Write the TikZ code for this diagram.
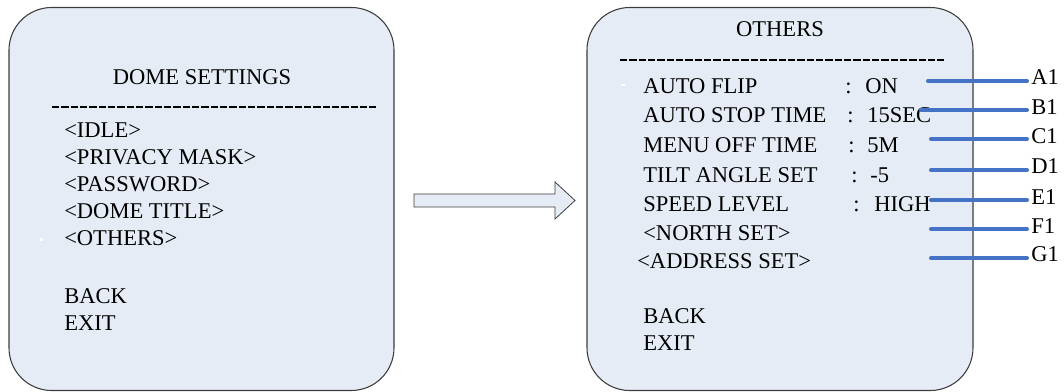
\documentclass[tikz,border=0pt]{standalone}
\usepackage{fontspec}
\setmainfont{Liberation Serif}
\definecolor{panel}{RGB}{230,236,246}
\definecolor{edge}{RGB}{60,60,60}
\definecolor{lineblue}{RGB}{68,114,196}
\begin{document}
\begin{tikzpicture}[x=0.75pt,y=-0.75pt,
  panelbox/.style={draw=edge,line width=0.8pt,fill=panel,rounded corners=32pt},
  menutext/.style={anchor=base west,inner sep=0pt,font=\fontsize{16.9pt}{18pt}\selectfont},
  titletext/.style={anchor=base,inner sep=0pt,font=\fontsize{16.9pt}{18pt}\selectfont},
  sepline/.style={line width=1.1pt,dash pattern=on 5.4pt off 1.6pt},
  callout/.style={lineblue,line width=3pt,line cap=round},
  calllabel/.style={anchor=west,inner sep=0pt,font=\fontsize{16.9pt}{18pt}\selectfont},
  cursor/.style={fill=white,draw=none}]
\useasboundingbox (0,0) rectangle (1064,392);
% left panel
\draw[panelbox] (9,390.5) rectangle (394,7.5);
\node[titletext] (t1) at (202,85) {DOME SETTINGS};
\draw[sepline] (52,107) -- (376,107);
\node[menutext] (l1) at (64,138) {<IDLE>};
\node[menutext] (l2) at (64,165) {<PRIVACY MASK>};
\node[menutext] (l3) at (64,192) {<PASSWORD>};
\node[menutext] (l4) at (64,219) {<DOME TITLE>};
\node[menutext] (l5) at (64,246) {<OTHERS>};
\node[menutext] (l6) at (64,303) {BACK};
\node[menutext] (l7) at (64,330) {EXIT};
\fill[cursor] (39.5,238.5) rectangle (43,241);
% block arrow
\draw[draw=edge,line width=0.6pt,fill=panel] (414,194) -- (555,194) -- (555,182) -- (575,200.5) -- (555,219) -- (555,207) -- (414,207) -- cycle;
% right panel
\draw[panelbox] (587,390.5) rectangle (973,7.5);
\node[titletext] (t2) at (780,37) {OTHERS};
\draw[sepline] (620,60) -- (944,60);
\node[menutext] (r1) at (643,94) {AUTO FLIP};
\node[menutext] (r1c) at (845,94) {:};
\node[menutext] (r1v) at (865,94) {ON};
\node[menutext] (r2) at (643,123) {AUTO STOP TIME};
\node[menutext] (r2c) at (847,123) {:};
\node[menutext] (r2v) at (867,123) {15SEC};
\node[menutext] (r3) at (643,153) {MENU OFF TIME};
\node[menutext] (r3c) at (848,153) {:};
\node[menutext] (r3v) at (867,153) {5M};
\node[menutext] (r4) at (643,183) {TILT ANGLE SET};
\node[menutext] (r4c) at (851,183) {:};
\node[menutext] (r4v) at (870,183) {-5};
\node[menutext] (r5) at (643,212) {SPEED LEVEL};
\node[menutext] (r5c) at (853,212) {:};
\node[menutext] (r5v) at (874,212) {HIGH};
\node[menutext] (r6) at (643,241) {<NORTH SET>};
\node[menutext] (r7) at (637,268) {<ADDRESS SET>};
\node[menutext] (r8) at (643,323) {BACK};
\node[menutext] (r9) at (643,350) {EXIT};
\fill[cursor] (620.5,84) rectangle (624.5,86.5);
% callouts
\node[calllabel] (A1) at (1031,77) {A1};
\node[calllabel] (B1) at (1031,107) {B1};
\node[calllabel] (C1) at (1031,136) {C1};
\node[calllabel] (D1) at (1031,166) {D1};
\node[calllabel] (E1) at (1031,197) {E1};
\node[calllabel] (F1) at (1031,226) {F1};
\node[calllabel] (G1) at (1031,254) {G1};
\coordinate (a) at (928,81);
\coordinate (b) at (921,110);
\coordinate (c) at (931,139);
\coordinate (d) at (931,170);
\coordinate (e) at (931,200);
\coordinate (f) at (931,229);
\coordinate (g) at (931,258);
\draw[callout] (a) -- (1027,81);
\draw[callout] (b) -- (1027,110);
\draw[callout] (c) -- (1027,139);
\draw[callout] (d) -- (1027,170);
\draw[callout] (e) -- (1027,200);
\draw[callout] (f) -- (1027,229);
\draw[callout] (g) -- (1027,258);
\end{tikzpicture}
\end{document}
